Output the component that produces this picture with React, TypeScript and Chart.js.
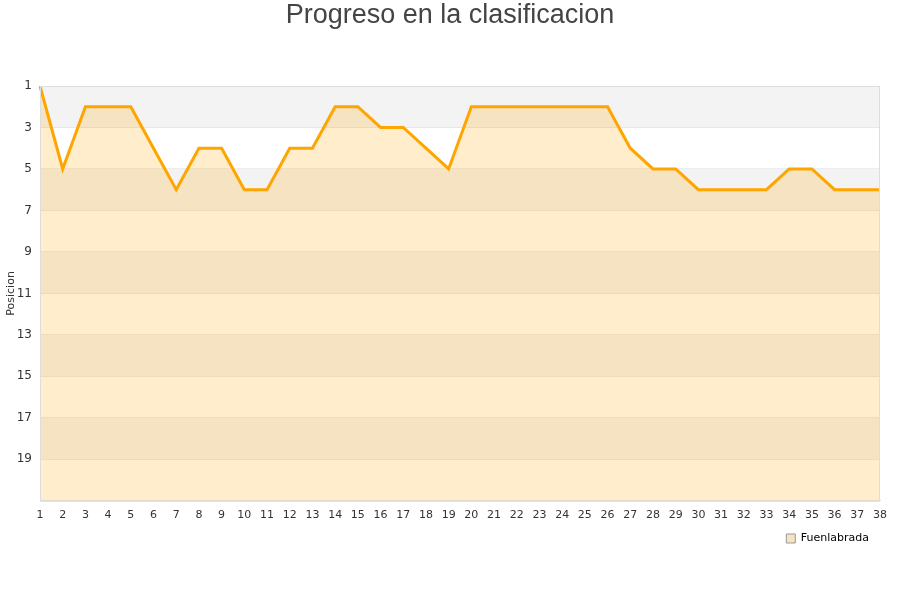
import React, { useEffect, useRef } from "react";
import { Chart, registerables } from "chart.js";

Chart.register(...registerables);

const matchdays: string[] = Array.from({ length: 38 }, (_, i) => String(i + 1));
const teamName = "Fuenlabrada";
const chartTitle = "Progreso en la clasificacion";
const positions: number[] = [
  1, 5, 2, 2, 2, 4, 6, 4, 4, 6, 6, 4, 4, 2, 2, 3, 3, 4, 5, 2,
  2, 2, 2, 2, 2, 2, 4, 5, 5, 6, 6, 6, 6, 5, 5, 6, 6, 6,
];
const bandStarts: number[] = [1, 5, 9, 13, 17];

const bandsPlugin = {
  id: "bands",
  beforeDraw(chart: any) {
    const { ctx, chartArea, scales } = chart;
    const y = scales.y;
    ctx.save();
    ctx.fillStyle = "#ffffff";
    ctx.fillRect(chartArea.left, chartArea.top, chartArea.right - chartArea.left, chartArea.bottom - chartArea.top);
    ctx.fillStyle = "#f3f3f3";
    bandStarts.forEach((s) => {
      const y1 = y.getPixelForValue(s);
      const y2 = y.getPixelForValue(s + 2);
      ctx.fillRect(chartArea.left, y1, chartArea.right - chartArea.left, y2 - y1);
    });
    ctx.restore();
  },
  afterDatasetsDraw(chart: any) {
    const { ctx, chartArea } = chart;
    ctx.save();
    ctx.strokeStyle = "#dddddd";
    ctx.lineWidth = 1;
    ctx.strokeRect(chartArea.left + 0.5, chartArea.top + 0.5, chartArea.right - chartArea.left - 1, chartArea.bottom - chartArea.top);
    ctx.restore();
  },
  afterDraw(chart: any) {
    const { ctx, width } = chart;
    ctx.save();
    ctx.fillStyle = "#444444";
    ctx.font = "27px 'Liberation Sans'";
    ctx.textAlign = "center";
    ctx.textBaseline = "middle";
    ctx.fillText(chartTitle, width / 2, 16);
    ctx.restore();
  },
};

export default function App() {
  const ref = useRef<HTMLCanvasElement>(null);
  useEffect(() => {
    if (!ref.current) return;
    const chart = new Chart(ref.current, {
      type: "line",
      data: {
        labels: matchdays,
        datasets: [
          {
            label: teamName,
            data: positions,
            borderColor: "#ffa500",
            backgroundColor: "rgba(255,165,0,0.2)",
            borderWidth: 3,
            pointRadius: 0,
            tension: 0,
            fill: { value: 21 },
          },
        ],
      },
      options: {
        animation: false,
        responsive: false,
        layout: { padding: { left: 0, right: 20, top: 86, bottom: 46 } },
        plugins: {
          title: { display: false },
          legend: {
            position: "bottom",
            align: "end",
            labels: {
              boxWidth: 9,
              boxHeight: 9,
              padding: 11,
              color: "#000000",
              font: { family: "DejaVu Sans", size: 11 },
              generateLabels: () => [
                {
                  text: teamName,
                  fillStyle: "#f5e3c3",
                  strokeStyle: "#999999",
                  lineWidth: 1,
                  datasetIndex: 0,
                },
              ],
            },
          },
          tooltip: { enabled: false },
        },
        scales: {
          x: {
            offset: false,
            grid: { display: false },
            border: { color: "#dddddd" },
            ticks: {
              padding: 0,
              color: "#333333",
              font: { family: "DejaVu Sans", size: 11 },
              maxRotation: 0,
              autoSkip: false,
            },
          },
          y: {
            reverse: true,
            min: 1,
            max: 21,
            afterFit: (s: any) => {
              s.width = 40;
            },
            title: {
              display: true,
              text: "Posicion",
              color: "#333333",
              font: { family: "DejaVu Sans", size: 11 },
              padding: { top: 5, bottom: 0 },
            },
            grid: { color: "rgba(0,0,0,0.07)", drawTicks: false },
            border: { color: "#dddddd" },
            ticks: {
              stepSize: 2,
              padding: 8,
              color: "#333333",
              font: { family: "DejaVu Sans", size: 12 },
              callback: (v: any) => (v === 21 ? "" : String(v)),
            },
          },
        },
      },
      plugins: [bandsPlugin],
    });
    return () => chart.destroy();
  }, []);
  return (
    <div style={{ position: "fixed", left: 0, top: 0, width: 900, height: 600, background: "#fff" }}>
      <canvas ref={ref} width={900} height={600} />
    </div>
  );
}
